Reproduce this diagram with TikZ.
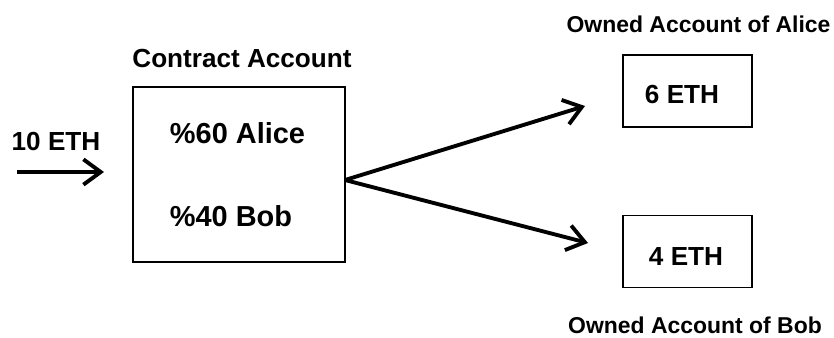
\documentclass[tikz,border=0pt]{standalone}
\usepackage{fontspec}
\setmainfont{Liberation Sans}
\usetikzlibrary{arrows.meta}

\tikzset{
  acct/.style = {draw, line width=1.1pt, inner sep=0pt},
  lbl/.style = {anchor=base, inner sep=0pt, font=\fontsize{19.6}{22}\selectfont\bfseries},
  share/.style = {lbl, font=\fontsize{21.7}{24}\selectfont\bfseries},
  owner/.style = {lbl, font=\fontsize{17.2}{20}\selectfont\bfseries},
  flow/.style = {line width=2.9pt, -{Straight Barb[length=13pt, width=19pt, line width=2.9pt]}},
}

\begin{document}
\begin{tikzpicture}[x=0.75pt, y=-0.75pt]
\useasboundingbox (0, 0) rectangle (834, 337);
\node[acct, minimum width=159pt, minimum height=131pt] (contract) at (239, 174.5) {};
\node[acct, minimum width=97pt, minimum height=54pt] (alice) at (687.5, 91) {};
\node[acct, minimum width=97pt, minimum height=54pt] (bob) at (687.5, 251.5) {};
\node[lbl] (ctitle) at (242, 67) {Contract Account};
\node[share] (ashare) at (237.5, 143) {\%60 Alice};
\node[share] (bshare) at (231, 226) {\%40 Bob};
\node[lbl] (aeth) at (682, 103) {6 ETH};
\node[lbl] (beth) at (686, 265) {4 ETH};
\node[owner] (atitle) at (698.5, 32) {Owned Account of Alice};
\node[owner] (btitle) at (695, 333) {Owned Account of Bob};
\node[lbl] (amount) at (56, 150) {10 ETH};
\coordinate (inStart) at (17, 172);
\coordinate (inEnd) at (104, 172);
\coordinate (split) at (345, 180);
\coordinate (toAlice) at (585, 106);
\coordinate (toBob) at (588, 243);
\draw[flow] (inStart) -- (inEnd);
\draw[flow] (split) -- (toAlice);
\draw[flow] (split) -- (toBob);
\end{tikzpicture}
\end{document}
